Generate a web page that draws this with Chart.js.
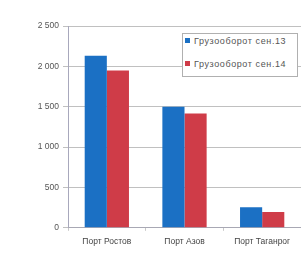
<!DOCTYPE html>
<html>
<head>
<meta charset="utf-8">
<script src="https://cdn.jsdelivr.net/npm/chart.js@4/dist/chart.umd.min.js"></script>
<style>
  html, body { margin: 0; padding: 0; background: #fff; }
  #wrap { position: relative; width: 301px; height: 261px; overflow: hidden; }
  #legend {
    position: absolute; left: 182px; top: 33px; width: 116px; height: 44px;
    border: 1px solid #b0b0b0; background: #fff; box-sizing: border-box;
    font: 9px "Liberation Sans", Arial, sans-serif; color: #555; letter-spacing: 0.6px;
    padding: 2px 0 0 2px;
  }
  #legend div { height: 23px; line-height: 10px; white-space: nowrap; }
  #legend span { display: inline-block; width: 5px; height: 5px; margin-right: 4px; vertical-align: 1px; }
</style>
</head>
<body>
<div id="wrap">
  <canvas id="chart" width="301" height="261"></canvas>
  <div id="legend"></div>
</div>
<script>
var ports = ["Порт Ростов", "Порт Азов", "Порт Таганрог"];
var seriesNames = ["Грузооборот сен.13", "Грузооборот сен.14"];
var sep13 = [2130, 1500, 255];
var sep14 = [1950, 1415, 195];
var colors = ["#1b70c4", "#cf3c48"];

var ctx = document.getElementById("chart").getContext("2d");
var chart = new Chart(ctx, {
    type: 'bar',
    data: {
        labels: ports,
        datasets: [
            { label: seriesNames[0], data: sep13, backgroundColor: colors[0] },
            { label: seriesNames[1], data: sep14, backgroundColor: colors[1] }
        ]
    },
    options: {
        responsive: false,
        animation: false,
        layout: { padding: { top: 26, right: -1, bottom: 8, left: 0 } },
        datasets: { bar: { categoryPercentage: 0.57, barPercentage: 1.0 } },
        plugins: { legend: { display: false }, tooltip: { enabled: false } },
        scales: {
            x: {
                grid: { display: true, drawOnChartArea: false, tickLength: 3, color: "#c8c8c8" },
                border: { color: "#a8a8b4" },
                ticks: { color: "#444", font: { family: "Liberation Sans", size: 8.5 }, padding: 6 }
            },
            y: {
                min: 0, max: 2500,
                afterFit: function(scale) { scale.width = 68; },
                grid: { color: "#c0c0c0", tickLength: 5 },
                border: { color: "#a8a8bc" },
                ticks: {
                    stepSize: 500, padding: 4, color: "#555",
                    font: { family: "Liberation Sans", size: 8.5 },
                    callback: function(v) { return String(v).replace(/\B(?=(\d{3})+(?!\d))/g, " "); }
                }
            }
        }
    }
});

//Build legend from the datasets
var legend = document.getElementById("legend");
chart.data.datasets.forEach(function(ds) {
    var row = document.createElement("div");
    row.innerHTML = '<span style="background:' + ds.backgroundColor + '"></span>' + ds.label;
    legend.appendChild(row);
});
</script>
</body>
</html>
